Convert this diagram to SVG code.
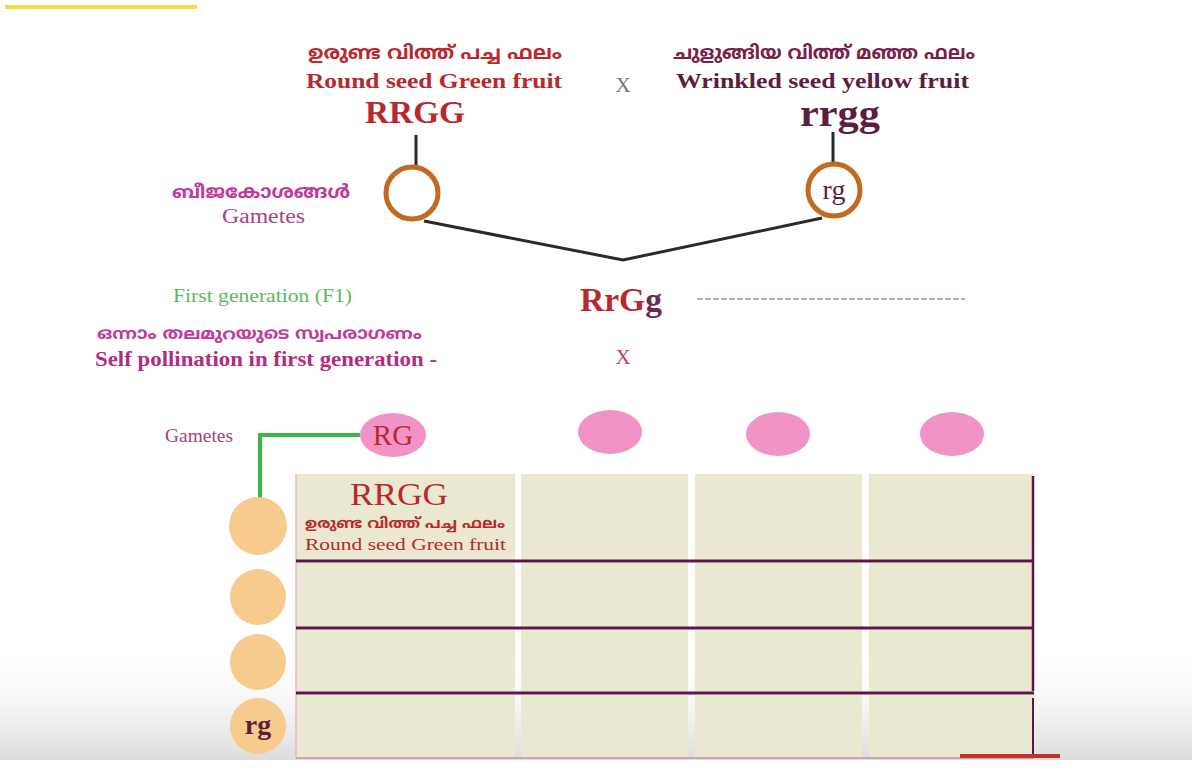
<svg xmlns="http://www.w3.org/2000/svg" width="1192" height="776" viewBox="0 0 1192 776">
<defs>
<style>
.serif{font-family:"Liberation Serif","DejaVu Serif",serif;}
.ml{font-family:"Noto Sans Malayalam","Noto Sans","DejaVu Sans",sans-serif;}
.red{fill:#b8292e;}
.maroon{fill:#5e1d3f;}
.mag{fill:#c2389c;}
.gam{fill:#a5447f;}
.cell{fill:#ebe8d2;}
.hline{stroke:#5a1848;stroke-width:3;}
.pgam{fill:#f293c8;}
.ogam{fill:#f7ca8d;}
.ring{fill:#fff;stroke:#c26a22;stroke-width:5;}
.conn{fill:none;stroke:#2a2a2a;stroke-width:3;}
</style>
<linearGradient id="shade" x1="0" y1="0" x2="0" y2="1">
<stop offset="0" stop-color="#ffffff" stop-opacity="0"/>
<stop offset="1" stop-color="#dcdcdc" stop-opacity="1"/>
</linearGradient>
</defs>
<rect width="1192" height="776" fill="#fff"/>
<rect x="0" y="640" width="1192" height="120" fill="url(#shade)"/>
<rect x="0" y="760" width="1192" height="16" fill="#fff"/>
<rect x="5" y="5" width="192" height="4" fill="#f5dd40"/>

<g id="parent1">
<text class="ml red" x="308" y="59" font-size="19" font-weight="bold" textLength="254" lengthAdjust="spacingAndGlyphs">ഉരുണ്ട വിത്ത് പച്ച ഫലം</text>
<text class="serif red" x="306" y="88" font-size="21" font-weight="bold" textLength="256" lengthAdjust="spacingAndGlyphs">Round seed Green fruit</text>
<text class="serif red" x="365" y="123" font-size="32" font-weight="bold" textLength="100" lengthAdjust="spacingAndGlyphs">RRGG</text>
</g>
<g id="cross1"><text class="serif" x="623" y="92" font-size="21" fill="#777" text-anchor="middle">X</text></g>
<g id="parent2">
<text class="ml" x="673" y="59" font-size="19" font-weight="bold" fill="#7a2048" textLength="302" lengthAdjust="spacingAndGlyphs">ചുളുങ്ങിയ വിത്ത് മഞ്ഞ ഫലം</text>
<text class="serif maroon" x="676" y="88" font-size="21" font-weight="bold" textLength="293" lengthAdjust="spacingAndGlyphs">Wrinkled seed yellow fruit</text>
<text class="serif maroon" x="800" y="126" font-size="38" font-weight="bold" textLength="80" lengthAdjust="spacingAndGlyphs">rrgg</text>
</g>
<g id="gametes-label">
<text class="ml mag" x="172" y="198" font-size="18" font-weight="bold" textLength="178" lengthAdjust="spacingAndGlyphs">ബീജകോശങ്ങൾ</text>
<text class="serif gam" x="222" y="223" font-size="20" textLength="83" lengthAdjust="spacingAndGlyphs">Gametes</text>
</g>

<g id="connectors">
<line class="conn" x1="416" y1="135" x2="416" y2="166"/>
<line class="conn" x1="833" y1="132" x2="833" y2="163"/>
<polyline class="conn" points="424,221 623,260 822,218"/>
<polyline fill="none" stroke="#3cb64a" stroke-width="4" points="360,435 260,435 260,502"/>
</g>

<g id="gamete1"><circle class="ring" cx="412" cy="193" r="26"/></g>
<g id="gamete2"><circle class="ring" cx="834" cy="190" r="26"/>
<text class="serif maroon" x="834" y="199" font-size="28" text-anchor="middle">rg</text></g>

<g id="f1-label"><text class="serif" x="173" y="302" font-size="19" fill="#5cb85c" textLength="179" lengthAdjust="spacingAndGlyphs">First generation (F1)</text></g>
<g id="f1">
<text class="serif" x="580" y="311" font-size="33" font-weight="bold" textLength="82" lengthAdjust="spacingAndGlyphs"><tspan fill="#b8292e">RrG</tspan><tspan fill="#6a2a52">g</tspan></text>
<line x1="697" y1="299" x2="965" y2="299" stroke="#b88a9c" stroke-width="1.5" stroke-dasharray="6,2"/>
</g>
<g id="self-pollination">
<text class="ml mag" x="97" y="339" font-size="16" font-weight="bold" textLength="325" lengthAdjust="spacingAndGlyphs">ഒന്നാം തലമുറയുടെ സ്വപരാഗണം</text>
<text class="serif" x="95" y="366" font-size="21" font-weight="bold" fill="#b42c80" textLength="342" lengthAdjust="spacingAndGlyphs">Self pollination in first generation -</text>
</g>
<g id="cross2"><text class="serif" x="623" y="364" font-size="21" fill="#c2406e" text-anchor="middle">X</text></g>

<g id="gametes-row">
<text class="serif gam" x="165" y="442" font-size="19" textLength="68" lengthAdjust="spacingAndGlyphs">Gametes</text>
<ellipse class="pgam" cx="393" cy="435" rx="33" ry="22"/>
<text class="serif red" x="393" y="445" font-size="29" text-anchor="middle">RG</text>
<ellipse class="pgam" cx="610" cy="432" rx="32" ry="22"/>
<ellipse class="pgam" cx="778" cy="434" rx="32" ry="22"/>
<ellipse class="pgam" cx="952" cy="434" rx="32" ry="22"/>
</g>

<g id="row-gametes">
<circle class="ogam" cx="258" cy="526" r="29"/>
<circle class="ogam" cx="258" cy="597" r="28"/>
<circle class="ogam" cx="258" cy="662" r="28"/>
<circle class="ogam" cx="258" cy="726" r="28"/>
<text class="serif maroon" x="258" y="734" font-size="28" font-weight="bold" text-anchor="middle">rg</text>
</g>

<g id="punnett">
<rect class="cell" x="296" y="474" width="219" height="86"/>
<rect class="cell" x="521" y="474" width="167" height="86"/>
<rect class="cell" x="695" y="474" width="167" height="86"/>
<rect class="cell" x="869" y="474" width="164" height="86"/>
<rect class="cell" x="296" y="563" width="219" height="64"/>
<rect class="cell" x="521" y="563" width="167" height="64"/>
<rect class="cell" x="695" y="563" width="167" height="64"/>
<rect class="cell" x="869" y="563" width="164" height="64"/>
<rect class="cell" x="296" y="630" width="219" height="62"/>
<rect class="cell" x="521" y="630" width="167" height="62"/>
<rect class="cell" x="695" y="630" width="167" height="62"/>
<rect class="cell" x="869" y="630" width="164" height="62"/>
<rect class="cell" x="296" y="695" width="219" height="63"/>
<rect class="cell" x="521" y="695" width="167" height="63"/>
<rect class="cell" x="695" y="695" width="167" height="63"/>
<rect class="cell" x="869" y="695" width="164" height="63"/>
<line x1="296" y1="474" x2="296" y2="758" stroke="#e7b8c8" stroke-width="1.5"/>
<line class="hline" x1="296" y1="561" x2="1034" y2="561"/>
<line class="hline" x1="296" y1="628" x2="1034" y2="628"/>
<line class="hline" x1="296" y1="693" x2="1034" y2="693"/>
<line x1="296" y1="758" x2="1034" y2="758" stroke="#c9909f" stroke-width="1.5"/>
<line x1="1033" y1="476" x2="1033" y2="691" stroke="#5a1848" stroke-width="2.5"/>
<line x1="1033" y1="698" x2="1033" y2="757" stroke="#5a1848" stroke-width="2"/>
<line x1="960" y1="756" x2="1060" y2="756" stroke="#c1302b" stroke-width="4"/>
<text class="serif red" x="350" y="505" font-size="31" textLength="98" lengthAdjust="spacingAndGlyphs">RRGG</text>
<text class="ml red" x="305" y="528" font-size="14" font-weight="bold" textLength="200" lengthAdjust="spacingAndGlyphs">ഉരുണ്ട വിത്ത് പച്ച ഫലം</text>
<text class="serif red" x="305" y="550" font-size="17" textLength="201" lengthAdjust="spacingAndGlyphs">Round seed Green fruit</text>
</g>
</svg>
